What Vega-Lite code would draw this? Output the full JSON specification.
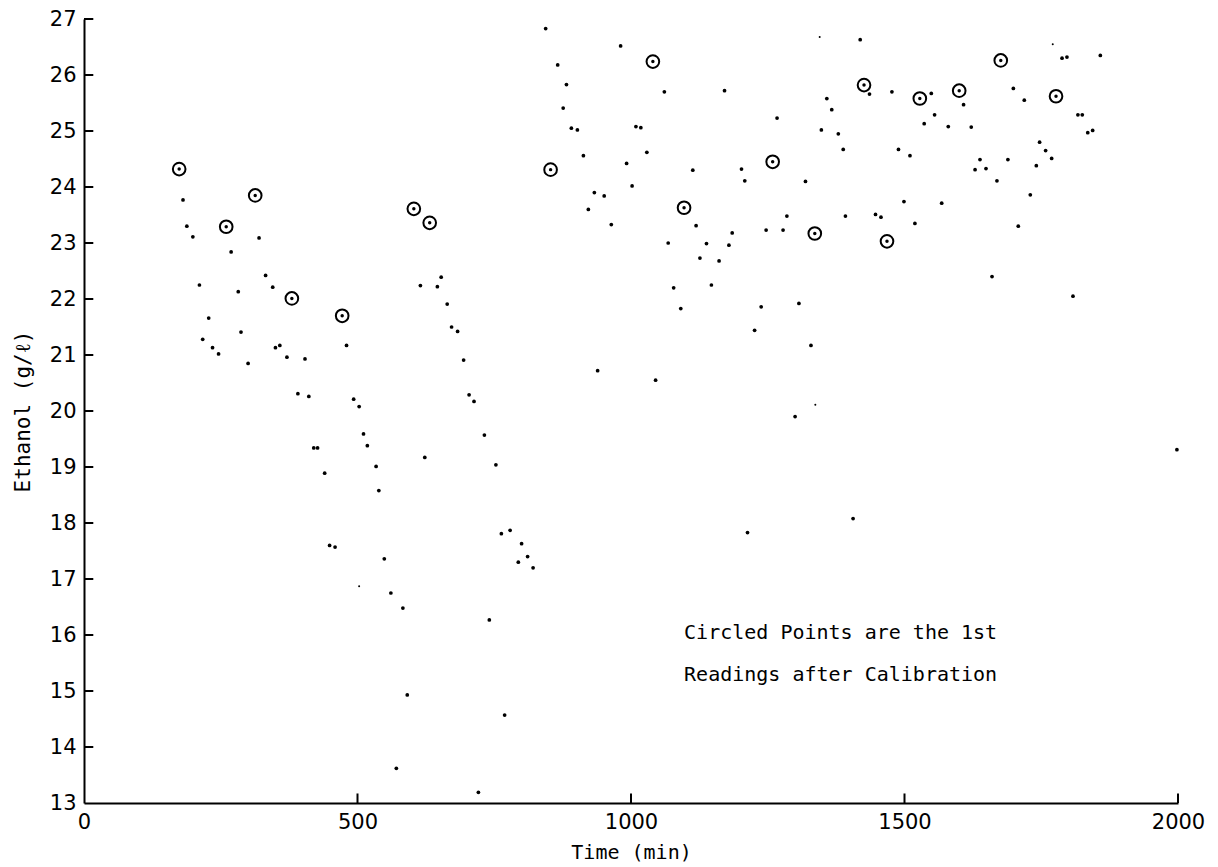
{
  "$schema": "https://vega.github.io/schema/vega-lite/v6.json",
  "autosize": {"type": "none"},
  "padding": {"left": 84, "top": 19, "right": 40, "bottom": 64},
  "width": 1094,
  "height": 784,
  "background": "white",
  "config": {
    "view": {"stroke": null},
    "font": "DejaVu Sans",
    "axis": {
      "grid": false,
      "ticks": false,
      "domainColor": "black",
      "domainWidth": 2,
      "labelColor": "black",
      "titleColor": "black",
      "labelFont": "DejaVu Sans",
      "titleFont": "DejaVu Sans Mono",
      "labelFontSize": 21,
      "titleFontSize": 20,
      "titleFontWeight": "normal"
    }
  },
  "datasets": {
    "readings": [
      {"t": 174, "v": 24.32, "kind": "circled"},
      {"t": 260, "v": 23.29, "kind": "circled"},
      {"t": 313, "v": 23.85, "kind": "circled"},
      {"t": 380, "v": 22.01, "kind": "circled"},
      {"t": 472, "v": 21.70, "kind": "circled"},
      {"t": 603, "v": 23.61, "kind": "circled"},
      {"t": 632, "v": 23.36, "kind": "circled"},
      {"t": 853, "v": 24.31, "kind": "circled"},
      {"t": 1040, "v": 26.24, "kind": "circled"},
      {"t": 1097, "v": 23.63, "kind": "circled"},
      {"t": 1259, "v": 24.45, "kind": "circled"},
      {"t": 1336, "v": 23.17, "kind": "circled"},
      {"t": 1426, "v": 25.82, "kind": "circled"},
      {"t": 1468, "v": 23.03, "kind": "circled"},
      {"t": 1528, "v": 25.58, "kind": "circled"},
      {"t": 1600, "v": 25.72, "kind": "circled"},
      {"t": 1676, "v": 26.26, "kind": "circled"},
      {"t": 1777, "v": 25.62, "kind": "circled"},
      {"t": 181, "v": 23.77, "kind": "dot"},
      {"t": 188, "v": 23.30, "kind": "dot"},
      {"t": 199, "v": 23.11, "kind": "dot"},
      {"t": 211, "v": 22.25, "kind": "dot"},
      {"t": 228, "v": 21.66, "kind": "dot"},
      {"t": 217, "v": 21.28, "kind": "dot"},
      {"t": 235, "v": 21.13, "kind": "dot"},
      {"t": 246, "v": 21.02, "kind": "dot"},
      {"t": 269, "v": 22.84, "kind": "dot"},
      {"t": 282, "v": 22.13, "kind": "dot"},
      {"t": 287, "v": 21.41, "kind": "dot"},
      {"t": 300, "v": 20.85, "kind": "dot"},
      {"t": 320, "v": 23.09, "kind": "dot"},
      {"t": 332, "v": 22.42, "kind": "dot"},
      {"t": 345, "v": 22.21, "kind": "dot"},
      {"t": 350, "v": 21.13, "kind": "dot"},
      {"t": 358, "v": 21.17, "kind": "dot"},
      {"t": 371, "v": 20.96, "kind": "dot"},
      {"t": 404, "v": 20.93, "kind": "dot"},
      {"t": 391, "v": 20.31, "kind": "dot"},
      {"t": 411, "v": 20.26, "kind": "dot"},
      {"t": 480, "v": 21.17, "kind": "dot"},
      {"t": 493, "v": 20.21, "kind": "dot"},
      {"t": 503, "v": 20.08, "kind": "dot"},
      {"t": 511, "v": 19.59, "kind": "dot"},
      {"t": 518, "v": 19.38, "kind": "dot"},
      {"t": 534, "v": 19.01, "kind": "dot"},
      {"t": 539, "v": 18.58, "kind": "dot"},
      {"t": 420, "v": 19.34, "kind": "dot"},
      {"t": 427, "v": 19.34, "kind": "dot"},
      {"t": 440, "v": 18.89, "kind": "dot"},
      {"t": 449, "v": 17.60, "kind": "dot"},
      {"t": 459, "v": 17.57, "kind": "dot"},
      {"t": 653, "v": 22.39, "kind": "dot"},
      {"t": 615, "v": 22.24, "kind": "dot"},
      {"t": 646, "v": 22.22, "kind": "dot"},
      {"t": 664, "v": 21.91, "kind": "dot"},
      {"t": 672, "v": 21.50, "kind": "dot"},
      {"t": 683, "v": 21.42, "kind": "dot"},
      {"t": 694, "v": 20.91, "kind": "dot"},
      {"t": 704, "v": 20.29, "kind": "dot"},
      {"t": 713, "v": 20.17, "kind": "dot"},
      {"t": 732, "v": 19.57, "kind": "dot"},
      {"t": 623, "v": 19.17, "kind": "dot"},
      {"t": 753, "v": 19.04, "kind": "dot"},
      {"t": 763, "v": 17.81, "kind": "dot"},
      {"t": 779, "v": 17.87, "kind": "dot"},
      {"t": 800, "v": 17.63, "kind": "dot"},
      {"t": 794, "v": 17.30, "kind": "dot"},
      {"t": 811, "v": 17.40, "kind": "dot"},
      {"t": 821, "v": 17.20, "kind": "dot"},
      {"t": 549, "v": 17.36, "kind": "dot"},
      {"t": 561, "v": 16.75, "kind": "dot"},
      {"t": 1002, "v": 24.02, "kind": "dot"},
      {"t": 933, "v": 23.90, "kind": "dot"},
      {"t": 951, "v": 23.84, "kind": "dot"},
      {"t": 922, "v": 23.60, "kind": "dot"},
      {"t": 964, "v": 23.33, "kind": "dot"},
      {"t": 1068, "v": 23.00, "kind": "dot"},
      {"t": 939, "v": 20.72, "kind": "dot"},
      {"t": 1045, "v": 20.55, "kind": "dot"},
      {"t": 583, "v": 16.48, "kind": "dot"},
      {"t": 591, "v": 14.93, "kind": "dot"},
      {"t": 571, "v": 13.62, "kind": "dot"},
      {"t": 741, "v": 16.27, "kind": "dot"},
      {"t": 769, "v": 14.57, "kind": "dot"},
      {"t": 721, "v": 13.19, "kind": "dot"},
      {"t": 1419, "v": 26.63, "kind": "dot"},
      {"t": 1436, "v": 25.66, "kind": "dot"},
      {"t": 1477, "v": 25.70, "kind": "dot"},
      {"t": 1549, "v": 25.67, "kind": "dot"},
      {"t": 1555, "v": 25.29, "kind": "dot"},
      {"t": 1536, "v": 25.13, "kind": "dot"},
      {"t": 1580, "v": 25.08, "kind": "dot"},
      {"t": 1489, "v": 24.67, "kind": "dot"},
      {"t": 1510, "v": 24.56, "kind": "dot"},
      {"t": 1499, "v": 23.74, "kind": "dot"},
      {"t": 1568, "v": 23.71, "kind": "dot"},
      {"t": 1519, "v": 23.35, "kind": "dot"},
      {"t": 1447, "v": 23.51, "kind": "dot"},
      {"t": 1457, "v": 23.46, "kind": "dot"},
      {"t": 1392, "v": 23.48, "kind": "dot"},
      {"t": 1358, "v": 25.58, "kind": "dot"},
      {"t": 1367, "v": 25.38, "kind": "dot"},
      {"t": 1348, "v": 25.02, "kind": "dot"},
      {"t": 1379, "v": 24.95, "kind": "dot"},
      {"t": 1388, "v": 24.67, "kind": "dot"},
      {"t": 1319, "v": 24.10, "kind": "dot"},
      {"t": 1267, "v": 25.23, "kind": "dot"},
      {"t": 1202, "v": 24.32, "kind": "dot"},
      {"t": 1208, "v": 24.11, "kind": "dot"},
      {"t": 1171, "v": 25.72, "kind": "dot"},
      {"t": 1061, "v": 25.70, "kind": "dot"},
      {"t": 1113, "v": 24.30, "kind": "dot"},
      {"t": 1119, "v": 23.31, "kind": "dot"},
      {"t": 1138, "v": 22.99, "kind": "dot"},
      {"t": 1185, "v": 23.18, "kind": "dot"},
      {"t": 1179, "v": 22.96, "kind": "dot"},
      {"t": 1126, "v": 22.73, "kind": "dot"},
      {"t": 1161, "v": 22.68, "kind": "dot"},
      {"t": 1078, "v": 22.20, "kind": "dot"},
      {"t": 1147, "v": 22.25, "kind": "dot"},
      {"t": 1091, "v": 21.83, "kind": "dot"},
      {"t": 1238, "v": 21.86, "kind": "dot"},
      {"t": 1307, "v": 21.92, "kind": "dot"},
      {"t": 1226, "v": 21.44, "kind": "dot"},
      {"t": 1247, "v": 23.23, "kind": "dot"},
      {"t": 1278, "v": 23.23, "kind": "dot"},
      {"t": 1285, "v": 23.48, "kind": "dot"},
      {"t": 1329, "v": 21.17, "kind": "dot"},
      {"t": 1300, "v": 19.90, "kind": "dot"},
      {"t": 1213, "v": 17.83, "kind": "dot"},
      {"t": 1406, "v": 18.08, "kind": "dot"},
      {"t": 1788, "v": 26.30, "kind": "dot"},
      {"t": 1797, "v": 26.32, "kind": "dot"},
      {"t": 1858, "v": 26.35, "kind": "dot"},
      {"t": 1608, "v": 25.47, "kind": "dot"},
      {"t": 1699, "v": 25.76, "kind": "dot"},
      {"t": 1719, "v": 25.55, "kind": "dot"},
      {"t": 1817, "v": 25.29, "kind": "dot"},
      {"t": 1825, "v": 25.29, "kind": "dot"},
      {"t": 1835, "v": 24.97, "kind": "dot"},
      {"t": 1844, "v": 25.01, "kind": "dot"},
      {"t": 1622, "v": 25.07, "kind": "dot"},
      {"t": 1747, "v": 24.80, "kind": "dot"},
      {"t": 1758, "v": 24.65, "kind": "dot"},
      {"t": 1769, "v": 24.51, "kind": "dot"},
      {"t": 1741, "v": 24.38, "kind": "dot"},
      {"t": 1638, "v": 24.49, "kind": "dot"},
      {"t": 1689, "v": 24.49, "kind": "dot"},
      {"t": 1629, "v": 24.31, "kind": "dot"},
      {"t": 1649, "v": 24.33, "kind": "dot"},
      {"t": 1669, "v": 24.11, "kind": "dot"},
      {"t": 1730, "v": 23.86, "kind": "dot"},
      {"t": 1708, "v": 23.30, "kind": "dot"},
      {"t": 1660, "v": 22.40, "kind": "dot"},
      {"t": 1808, "v": 22.05, "kind": "dot"},
      {"t": 1998, "v": 19.31, "kind": "dot"},
      {"t": 844, "v": 26.83, "kind": "dot"},
      {"t": 981, "v": 26.52, "kind": "dot"},
      {"t": 866, "v": 26.18, "kind": "dot"},
      {"t": 882, "v": 25.83, "kind": "dot"},
      {"t": 876, "v": 25.41, "kind": "dot"},
      {"t": 891, "v": 25.05, "kind": "dot"},
      {"t": 902, "v": 25.02, "kind": "dot"},
      {"t": 1009, "v": 25.08, "kind": "dot"},
      {"t": 1018, "v": 25.06, "kind": "dot"},
      {"t": 1029, "v": 24.62, "kind": "dot"},
      {"t": 913, "v": 24.56, "kind": "dot"},
      {"t": 992, "v": 24.42, "kind": "dot"},
      {"t": 1345, "v": 26.68, "kind": "speck"},
      {"t": 1771, "v": 26.55, "kind": "speck"},
      {"t": 1337, "v": 20.11, "kind": "speck"},
      {"t": 503, "v": 16.87, "kind": "speck"}
    ],
    "notes": [
      {"t": 1097, "v": 16.04, "label": "Circled Points are the 1st"},
      {"t": 1097, "v": 15.29, "label": "Readings after Calibration"}
    ],
    "yticks": [
      {"v": 14}, {"v": 15}, {"v": 16}, {"v": 17}, {"v": 18}, {"v": 19}, {"v": 20},
      {"v": 21}, {"v": 22}, {"v": 23}, {"v": 24}, {"v": 25}, {"v": 26}, {"v": 27}
    ],
    "xticks": [
      {"t": 500}, {"t": 1000}, {"t": 1500}, {"t": 2000}
    ]
  },
  "layer": [
    {
      "data": {"name": "readings"},
      "transform": [{"filter": "datum.kind !== 'circled'"}],
      "mark": {"type": "point", "filled": true, "color": "black", "opacity": 1},
      "encoding": {
        "x": {"field": "t", "type": "quantitative", "scale": {"domain": [0, 2000], "nice": false}, "axis": {"values": [0, 500, 1000, 1500, 2000], "format": "d", "title": "Time (min)", "labelPadding": 8, "titlePadding": 10, "labelFlush": false}},
        "y": {"field": "v", "type": "quantitative", "scale": {"domain": [13, 27], "nice": false, "zero": false}, "axis": {"values": [13,14,15,16,17,18,19,20,21,22,23,24,25,26,27], "format": "d", "title": "Ethanol (g/ℓ)", "titleFontSize": 21, "labelPadding": 8, "titlePadding": 16, "labelFlush": false}},
        "size": {"field": "kind", "type": "nominal", "scale": {"domain": ["dot", "speck"], "range": [14, 4]}, "legend": null}
      }
    },
    {
      "data": {"name": "readings"},
      "transform": [{"filter": "datum.kind === 'circled'"}],
      "layer": [
        {"mark": {"type": "point", "filled": false, "stroke": "black", "strokeWidth": 2, "size": 160, "opacity": 1}, "encoding": {"x": {"field": "t", "type": "quantitative"}, "y": {"field": "v", "type": "quantitative"}}},
        {"mark": {"type": "point", "filled": true, "color": "black", "size": 12, "opacity": 1}, "encoding": {"x": {"field": "t", "type": "quantitative"}, "y": {"field": "v", "type": "quantitative"}}}
      ]
    },
    {
      "data": {"name": "yticks"},
      "mark": {"type": "rule", "color": "black", "strokeWidth": 2},
      "encoding": {
        "y": {"field": "v", "type": "quantitative"},
        "x": {"datum": 0, "type": "quantitative"},
        "x2": {"datum": 17}
      }
    },
    {
      "data": {"name": "xticks"},
      "mark": {"type": "rule", "color": "black", "strokeWidth": 2},
      "encoding": {
        "x": {"field": "t", "type": "quantitative"},
        "y": {"datum": 13, "type": "quantitative"},
        "y2": {"datum": 13.17}
      }
    },
    {
      "data": {"name": "notes"},
      "mark": {"type": "text", "align": "left", "baseline": "middle", "fontSize": 20, "font": "DejaVu Sans Mono", "color": "black"},
      "encoding": {
        "x": {"field": "t", "type": "quantitative"},
        "y": {"field": "v", "type": "quantitative"},
        "text": {"field": "label"}
      }
    }
  ]
}
